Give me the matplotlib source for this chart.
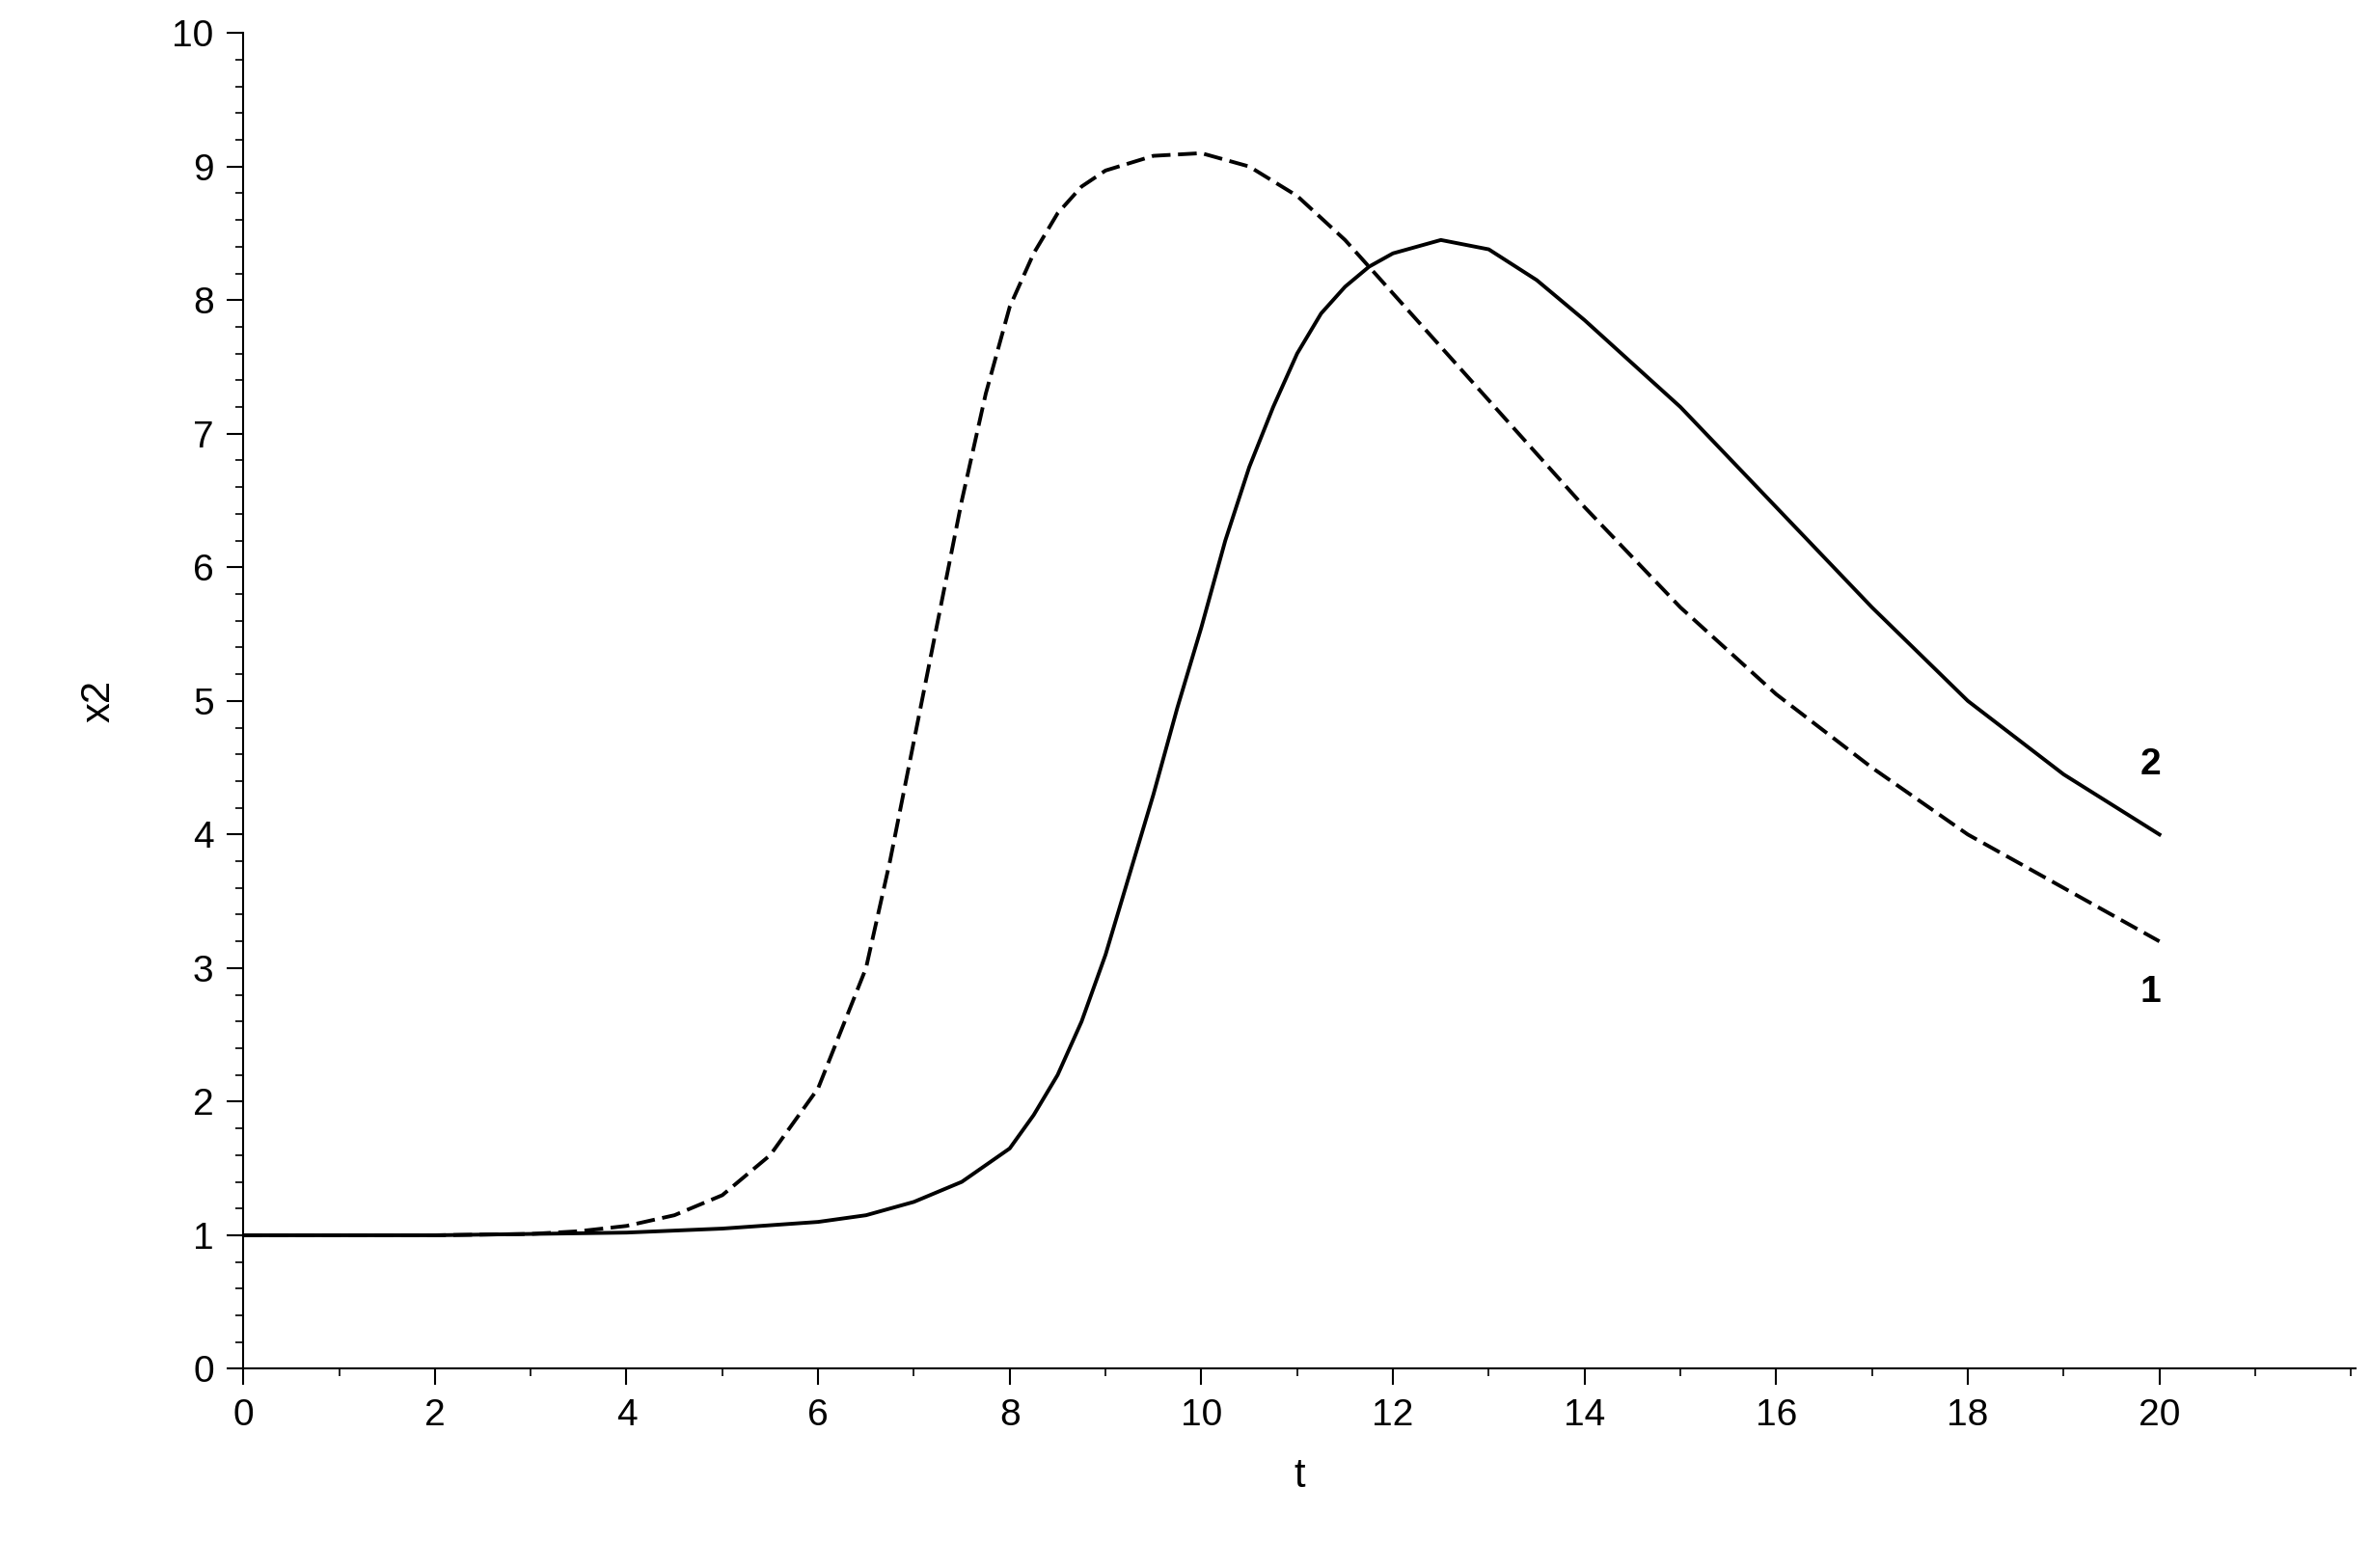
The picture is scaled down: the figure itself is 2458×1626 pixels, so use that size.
import matplotlib
matplotlib.use("Agg")
import matplotlib.pyplot as plt
from matplotlib.ticker import MultipleLocator

plt.rcParams['font.family'] = ['Liberation Sans', 'DejaVu Sans']

# curve 1 (dashed)
t1 = [0, 1, 2, 3, 3.5, 4, 4.5, 5, 5.5, 6, 6.5, 6.75, 7, 7.25, 7.5, 7.75, 8, 8.25, 8.5, 8.75,
      9, 9.5, 10, 10.5, 11, 11.5, 12, 12.5, 13, 13.5, 14, 15, 16, 17, 18, 19, 20]
x2_1 = [1.0, 1.0, 1.0, 1.01, 1.03, 1.07, 1.15, 1.3, 1.6, 2.1, 3.0, 3.8, 4.7, 5.6, 6.5, 7.3,
        7.95, 8.35, 8.65, 8.85, 8.97, 9.08, 9.1, 9.0, 8.78, 8.45, 8.05, 7.65, 7.25, 6.85,
        6.45, 5.7, 5.05, 4.5, 4.0, 3.6, 3.2]

# curve 2 (solid)
t2 = [0, 1, 2, 3, 4, 5, 6, 6.5, 7, 7.5, 8, 8.25, 8.5, 8.75, 9, 9.25, 9.5, 9.75, 10, 10.25,
      10.5, 10.75, 11, 11.25, 11.5, 11.75, 12, 12.5, 13, 13.5, 14, 15, 16, 17, 18, 19, 20]
x2_2 = [1.0, 1.0, 1.0, 1.01, 1.02, 1.05, 1.1, 1.15, 1.25, 1.4, 1.65, 1.9, 2.2, 2.6, 3.1,
        3.7, 4.3, 4.95, 5.55, 6.2, 6.75, 7.2, 7.6, 7.9, 8.1, 8.25, 8.35, 8.45, 8.38, 8.15,
        7.85, 7.2, 6.45, 5.7, 5.0, 4.45, 4.0]

tick_x = list(range(0, 21, 2))
tick_y = list(range(0, 11))

fig = plt.figure(figsize=(24.58, 16.26), dpi=100)
ax = fig.add_axes([0.1026, 0.127, 0.891, 0.852])

ax.plot(t1, x2_1, color='black', lw=2.8, ls=(0, (5, 2)))
ax.plot(t2, x2_2, color='black', lw=2.8)
ax.text(19.8, 4.45, "2", fontsize=28, fontweight='bold')
ax.text(19.8, 2.75, "1", fontsize=28, fontweight='bold')

ax.set_xlim(0, 22.05)
ax.set_ylim(0, 10)
ax.set_xticks(tick_x)
ax.set_yticks(tick_y)
ax.xaxis.set_minor_locator(MultipleLocator(1))
ax.yaxis.set_minor_locator(MultipleLocator(0.2))
ax.tick_params(which='major', length=12, width=1.5, labelsize=28, pad=10)
ax.tick_params(which='minor', length=6, width=1.2)
for s in ['top', 'right']:
    ax.spines[s].set_visible(False)
for s in ['left', 'bottom']:
    ax.spines[s].set_linewidth(1.5)

ax.set_xlabel("t", fontsize=30, labelpad=18)
ax.set_ylabel("x2", fontsize=30, labelpad=40)

fig.savefig("out.png", dpi=100)
